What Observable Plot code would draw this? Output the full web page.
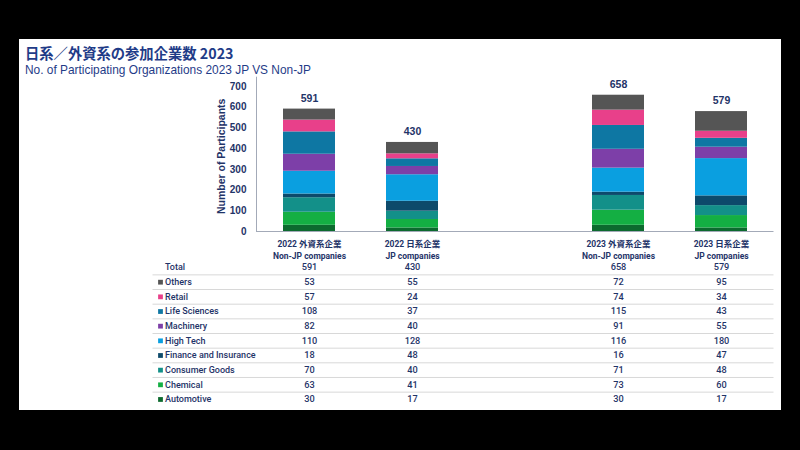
<!DOCTYPE html>
<html><head><meta charset="utf-8">
<script src="https://cdn.jsdelivr.net/npm/d3@7"></script>
<script src="https://cdn.jsdelivr.net/npm/@observablehq/plot@0.6"></script>
<style>
html,body{margin:0;padding:0;background:#000;}
#page{position:relative;width:800px;height:450px;background:#000;overflow:hidden;}
#panel{position:absolute;left:19px;top:39px;width:762px;height:371px;background:#fff;}
#title{position:absolute;left:25px;top:46px;font:700 14.3px "Noto Sans CJK JP",sans-serif;color:#1F3C88;line-height:1;white-space:nowrap;}
#subtitle{position:absolute;left:25px;top:64.5px;font:400 11.9px "Liberation Sans",Arial,sans-serif;color:#1F3C88;line-height:1;white-space:nowrap;}
.layer{position:absolute;left:0;top:0;}
</style></head>
<body>
<div id="page">
  <div id="panel"></div>
  <div id="title"></div>
  <div id="subtitle"></div>
  <div id="chart" class="layer"></div>
  <div id="table" class="layer"></div>
</div>
<script>
// ---- data ----
const titleText = "日系／外資系の参加企業数 2023";
const subtitleText = "No. of Participating Organizations 2023 JP VS Non-JP";
const yLabel = "Number of Participants";
const columns = ["2022 外資系企業\nNon-JP companies", "2022 日系企業\nJP companies", "2023 外資系企業\nNon-JP companies", "2023 日系企業\nJP companies"];
const yTicks = [0, 100, 200, 300, 400, 500, 600, 700];
// series listed bottom-to-top of the stack
const seriesNames = ["Automotive", "Chemical", "Consumer Goods", "Finance and Insurance", "High Tech", "Machinery", "Life Sciences", "Retail", "Others"];
const seriesColors = ["#0C6A2E", "#14AF43", "#139089", "#0D4A6B", "#0A9FE0", "#7D3FA8", "#0E77A3", "#E8408A", "#555555"];
const automotive = [30, 17, 30, 17];
const chemical = [63, 41, 73, 60];
const consumerGoods = [70, 40, 71, 48];
const finance = [18, 48, 16, 47];
const highTech = [110, 128, 116, 180];
const machinery = [82, 40, 91, 55];
const lifeSciences = [108, 37, 115, 43];
const retail = [57, 24, 74, 34];
const others = [53, 55, 72, 95];
const totals = [591, 430, 658, 579];
const tableRowLabels = ["Total", "Others", "Retail", "Life Sciences", "Machinery", "High Tech", "Finance and Insurance", "Consumer Goods", "Chemical", "Automotive"];

// ---- derived tables ----
const seriesValues = [automotive, chemical, consumerGoods, finance, highTech, machinery, lifeSciences, retail, others];
const stackRows = [];
seriesNames.forEach((s, si) => columns.forEach((c, ci) => stackRows.push({series: s, col: c, value: seriesValues[si][ci]})));
const totalRows = columns.map((c, ci) => ({col: c, total: totals[ci]}));
const xDomain = [columns[0], columns[1], "gap", columns[2], columns[3]];
const rowValues = {"Total": totals};
seriesNames.forEach((s, si) => rowValues[s] = seriesValues[si]);
const tableCells = [];
tableRowLabels.forEach((r, ri) => columns.forEach((c, ci) => tableCells.push({row: ri, col: c, value: rowValues[r][ci]})));
const legendRows = tableRowLabels.map((r, ri) => ({row: ri, series: r})).filter(d => d.row > 0);

const navy = "#1F3468";
const axisGray = "#A3AAB8";

document.getElementById("title").textContent = titleText;
document.getElementById("subtitle").textContent = subtitleText;

const chart = Plot.plot({
  width: 800, height: 262,
  marginLeft: 256, marginRight: 26.5, marginTop: 76.7, marginBottom: 31,
  style: {background: "transparent", color: navy, fontFamily: "Roboto, 'Noto Sans CJK JP', sans-serif", overflow: "visible"},
  x: {type: "band", domain: xDomain, paddingInner: 0.5, paddingOuter: 0.25, axis: null},
  y: {domain: [0, 745], axis: null},
  color: {domain: seriesNames, range: seriesColors},
  marks: [
    Plot.barY(stackRows, {x: "col", y: "value", fill: "series"}),
    Plot.ruleY([0], {stroke: axisGray}),
    Plot.frame({anchor: "left", stroke: axisGray}),
    Plot.axisY({ticks: yTicks, tickSize: 0, tickPadding: 10, fontSize: 10, fontWeight: "bold", fontFamily: "'Liberation Sans', Arial, sans-serif", label: null}),
    Plot.axisX({ticks: columns, tickSize: 0, tickPadding: 6, fontSize: 8.5, fontWeight: "bold", lineHeight: 1.5, label: null}),
    Plot.text([yLabel], {frameAnchor: "left", textAnchor: "middle", rotate: -90, dx: -35, dy: 2, fontSize: 10.5, fontWeight: "bold", fontFamily: "'Liberation Sans', Arial, sans-serif", fill: navy}),
    Plot.text(totalRows, {x: "col", y: "total", text: d => String(d.total), dy: -10.5, fontSize: 10.5, fontWeight: "bold", fontFamily: "'Liberation Sans', Arial, sans-serif", fill: navy})
  ]
});
document.getElementById("chart").append(chart);

const table = Plot.plot({
  width: 800, height: 450,
  marginLeft: 152.5, marginRight: 26.5, marginTop: 259.7, marginBottom: 43.7,
  style: {background: "transparent", color: navy, fontFamily: "Roboto, sans-serif", overflow: "visible"},
  x: {type: "band", domain: ["label", ...xDomain], paddingInner: 0.5, paddingOuter: 0.25, axis: null},
  y: {domain: [-0.5, 9.5], reverse: true, axis: null},
  color: {domain: seriesNames, range: seriesColors},
  marks: [
    Plot.ruleY(d3.range(tableRowLabels.length - 1), {y: d => d + 0.5, stroke: "#D8D8D8"}),
    Plot.text(tableCells, {x: "col", y: "row", text: d => String(d.value), fontSize: 9.2, fontWeight: 500, fill: navy}),
    Plot.text(tableRowLabels, {y: (d, i) => i, text: d => d, frameAnchor: "left", textAnchor: "start", dx: 12, fontSize: 9, fontWeight: 500, fill: navy}),
    Plot.dot(legendRows, {y: "row", frameAnchor: "left", dx: 7.5, symbol: "square", r: 2.7, fill: "series", stroke: null})
  ]
});
document.getElementById("table").append(table);
</script>
</body></html>
